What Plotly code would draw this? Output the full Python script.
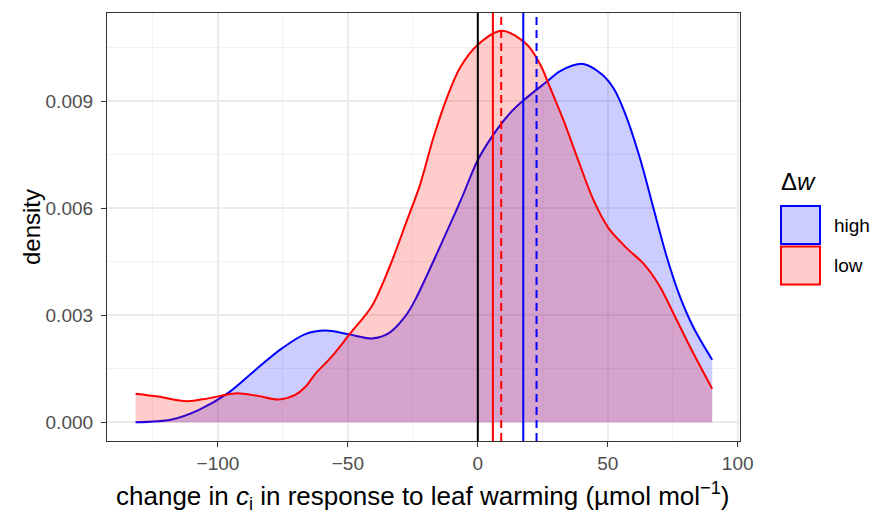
import plotly.graph_objects as go

# ---- data ----
high_x = [-131.7, -117.7, -107.5, -95.9, -85.7, -75.4, -66.4, -58.7, -49.8, -40.8, -34.4, -28.0,
          -24.1, -14.5, -6.5, 0.0, 6.0, 12.4, 17.6, 26.5, 31.7, 40.6, 47.7, 52.3, 56.7, 62.4,
          67.6, 72.7, 77.8, 82.9, 90.2]
high_y = [0.0000, 0.00008, 0.00034, 0.00083, 0.00146, 0.00207, 0.00247, 0.00257, 0.00247, 0.00235,
          0.00249, 0.00296, 0.00343, 0.00493, 0.00623, 0.00735, 0.00806, 0.00866, 0.00902, 0.00954,
          0.00984, 0.01004, 0.00975, 0.00935, 0.00865, 0.00740, 0.00600, 0.00464, 0.00352, 0.00267,
          0.00175]

low_x = [-131.7, -123.0, -111.9, -103.8, -93.3, -84.7, -76.7, -70.3, -66.4, -62.3, -56.2, -49.1,
         -40.8, -33.7, -27.3, -22.2, -17.1, -11.9, -6.8, 0.0, 9.2, 18.8, 24.0, 27.8, 33.0, 38.1,
         44.5, 50.3, 57.3, 63.7, 70.1, 75.3, 81.7, 90.2]
low_y = [0.00080, 0.00072, 0.00059, 0.00067, 0.00081, 0.00074, 0.00064, 0.00077, 0.00099, 0.00138,
         0.00184, 0.00249, 0.00325, 0.00440, 0.00565, 0.00666, 0.00797, 0.00909, 0.00994, 0.01058,
         0.01097, 0.01059, 0.01003, 0.00938, 0.00846, 0.00745, 0.00623, 0.00544, 0.00488, 0.00445,
         0.00380, 0.00305, 0.00211, 0.00094]

# reference lines: zero, group medians (solid) and means (dashed)
zero_line = 0.0
low_median, low_mean = 5.8, 9.0
high_median, high_mean = 17.5, 22.6

x_ticks = [-100, -50, 0, 50, 100]
x_minor = [-125, -75, -25, 25, 75]
y_ticks = [0.000, 0.003, 0.006, 0.009]
y_tick_text = ["0.000", "0.003", "0.006", "0.009"]
y_minor = [0.0015, 0.0045, 0.0075, 0.0105]

legend_labels = ["high", "low"]

BLUE = "#0000FF"
RED = "#FF0000"
FONT = "Liberation Sans, Arial, Helvetica, sans-serif"

fig = go.Figure()
fig.add_trace(go.Scatter(x=high_x, y=high_y, mode="lines", fill="tozeroy",
                         fillcolor="rgba(0,0,255,0.2)",
                         line=dict(color=BLUE, width=2, shape="spline", smoothing=0.9),
                         showlegend=False, hoverinfo="skip"))
fig.add_trace(go.Scatter(x=low_x, y=low_y, mode="lines", fill="tozeroy",
                         fillcolor="rgba(255,0,0,0.2)",
                         line=dict(color=RED, width=2, shape="spline", smoothing=0.9),
                         showlegend=False, hoverinfo="skip"))

vlines = [(zero_line, "black", "solid"), (low_median, RED, "solid"), (low_mean, RED, "8px,5px"),
          (high_median, BLUE, "solid"), (high_mean, BLUE, "8px,5px")]
for xv, col, dash in vlines:
    fig.add_shape(type="line", xref="x", yref="paper", x0=xv, x1=xv, y0=0, y1=1,
                  line=dict(color=col, width=2, dash=dash), layer="above")

# manual ggplot-style legend
L = 107.0
W = 633.0
B = 441.0
H = 428.0
def px(v):
    return (v - L) / W
def py(v):
    return (B - v) / H

key_specs = [(BLUE, "rgba(0,0,255,0.2)", 206, 244), (RED, "rgba(255,0,0,0.2)", 246.5, 284.5)]
for (col, fc, top, bot), lab in zip(key_specs, legend_labels):
    fig.add_shape(type="rect", xref="paper", yref="paper", x0=px(781), x1=px(820),
                  y0=py(bot), y1=py(top), line=dict(color=col, width=2), fillcolor=fc)
    fig.add_annotation(xref="paper", yref="paper", x=px(832), y=py((top + bot) / 2),
                       text=lab, showarrow=False, xanchor="left", yanchor="middle",
                       font=dict(family=FONT, size=19, color="black"))
fig.add_annotation(xref="paper", yref="paper", x=px(779), y=py(182), text="Δ<i>w</i>",
                   showarrow=False, xanchor="left", yanchor="middle",
                   font=dict(family=FONT, size=24, color="black"))

# axis titles
fig.add_annotation(xref="paper", yref="paper", x=px(423), y=py(496),
                   text="change in <i>c</i><sub>i</sub> in response to leaf warming (µmol mol<sup>−1</sup>)",
                   showarrow=False, xanchor="center", yanchor="middle",
                   font=dict(family=FONT, size=26, color="black"))
fig.add_annotation(xref="paper", yref="paper", x=px(31), y=0.5, text="density", textangle=-90,
                   showarrow=False, xanchor="center", yanchor="middle",
                   font=dict(family=FONT, size=24, color="black"))

axis_common = dict(showline=True, mirror=True, linecolor="#333333", linewidth=1.2,
                   ticks="outside", ticklen=5, tickwidth=1.2, tickcolor="#333333",
                   showgrid=True, gridcolor="#EBEBEB", gridwidth=1.5, zeroline=False,
                   tickfont=dict(family=FONT, size=19, color="#4D4D4D"))

fig.update_xaxes(range=[-142.7, 100.9], tickvals=x_ticks,
                 minor=dict(tickvals=x_minor, showgrid=True, gridcolor="#F2F2F2", gridwidth=0.8,
                            ticks=""),
                 **axis_common)
fig.update_yaxes(range=[-0.000524, 0.011467], tickvals=y_ticks, ticktext=y_tick_text,
                 ticklabelstandoff=4,
                 minor=dict(tickvals=y_minor, showgrid=True, gridcolor="#F2F2F2", gridwidth=0.8,
                            ticks=""),
                 **axis_common)

fig.update_layout(width=875, height=511, margin=dict(l=107, r=135, t=13, b=70),
                  plot_bgcolor="white", paper_bgcolor="white",
                  font=dict(family=FONT), showlegend=False)

fig.write_html("out.html")
